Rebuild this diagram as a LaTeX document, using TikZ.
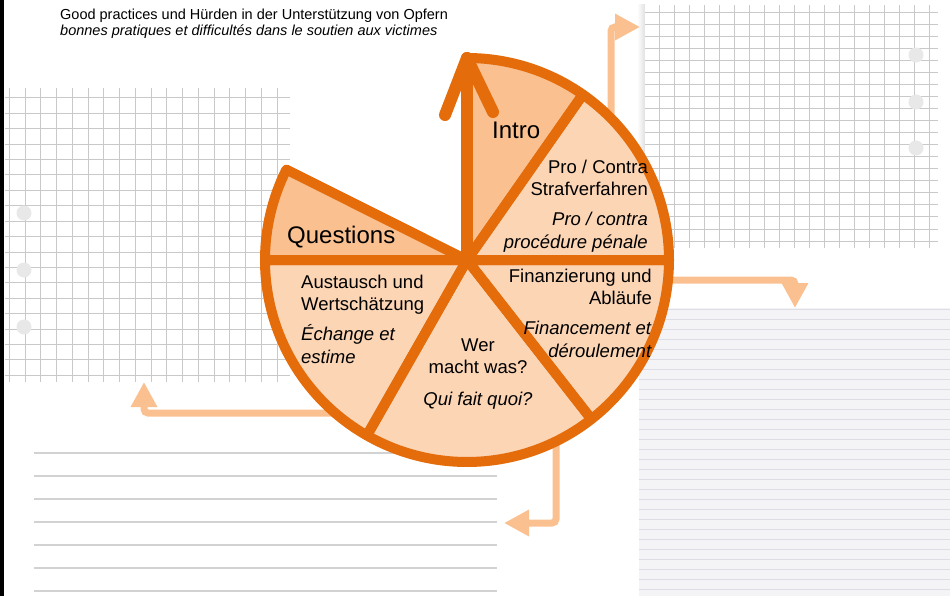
\documentclass[tikz,border=0pt]{standalone}
\usepackage{fontspec}
\setmainfont{Liberation Sans}
\usetikzlibrary{arrows.meta}
\definecolor{pieLine}{HTML}{E46C0A}
\definecolor{pieDark}{HTML}{FAC090}
\definecolor{pieLight}{HTML}{FCD5B5}
\definecolor{linkCol}{HTML}{FAC08F}
\definecolor{gridCol}{HTML}{C9C9C9}
\definecolor{ruleCol}{HTML}{D2D2D2}
\definecolor{sheetCol}{HTML}{F4F4F7}
\definecolor{sheetRule}{HTML}{DDDDE5}
\tikzset{
  sector/.style={draw=pieLine, line width=10pt, line join=round},
  link/.style={draw=linkCol, line width=7pt, rounded corners=4pt, -{Triangle[length=25pt,width=25pt]}},
  pietext/.style={font=\fontsize{18.5}{22.5}\selectfont, inner sep=0pt},
  pietitle/.style={font=\fontsize{24}{28}\selectfont, inner sep=0pt},
  hole/.style={circle, fill=black!9, minimum size=15pt, inner sep=0pt},
}
\begin{document}
\begin{tikzpicture}[x=1pt, y=-1pt]
\useasboundingbox (0,0) rectangle (950,596);
\fill[black] (0,0) rectangle (4,596);
% left grid sheet
\foreach \gx in {0,...,17}
  \draw[gridCol, line width=1pt] ({9.3+15.75*\gx},88) -- ({9.3+15.75*\gx},382);
\foreach \gy in {0,...,18}
  \draw[gridCol, line width=1pt] (5,{98+15.4*\gy}) -- (290,{98+15.4*\gy});
\foreach \hy in {213,270,327}
  \node[hole] (holeL\hy) at (24,\hy) {};
% right grid sheet
\shade[left color=white, right color=black!12] (637,5) rectangle (645,248);
\fill[white] (645,5) rectangle (938,248);
\foreach \gx in {0,...,18}
  \draw[gridCol, line width=1pt] ({659+15*\gx},5) -- ({659+15*\gx},248);
\foreach \gy in {0,...,19}
  \draw[gridCol, line width=1pt] (645,{13+12*\gy}) -- (938,{13+12*\gy});
\foreach \hy in {55,102,148}
  \node[hole] (holeR\hy) at (916,\hy) {};
% lined sheets
\fill[sheetCol] (639,308) rectangle (950,596);
\foreach \ly in {0,...,28}
  \draw[sheetRule, line width=1pt] (639,{309+10*\ly}) -- (950,{309+10*\ly});
\foreach \ly in {0,...,6}
  \draw[ruleCol, line width=1.5pt] (34,{453+23*\ly}) -- (497,{453+23*\ly});
% title
\node[anchor=base west, inner sep=0pt, font=\fontsize{14.5}{17}\selectfont] (title) at (60,20)
  {Good practices und Hürden in der Unterstützung von Opfern};
\node[anchor=base west, inner sep=0pt, font=\fontsize{14.5}{17}\selectfont\itshape] (subtitle) at (60,35.5)
  {bonnes pratiques et difficultés dans le soutien aux victimes};
% links
\coordinate (pc) at (467,260);
\coordinate (proIn) at (611,160);  \coordinate (proTip) at (640,27);
\coordinate (finIn) at (640,280);  \coordinate (finTip) at (795,308);
\coordinate (werIn) at (556,430);  \coordinate (werTip) at (504,523);
\coordinate (ausIn) at (360,413);  \coordinate (ausTip) at (144,382);
\draw[link] (proIn) |- (proTip);
\draw[link] (finIn) -| (finTip);
\draw[link] (werIn) |- (werTip);
\draw[link] (ausIn) -| (ausTip);
% pie (y axis points down, so angles are mirrored)
\def\pr{202}
\foreach \sa/\sb/\sc in {-55/-90/pieDark, 0/-55/pieLight, 52/0/pieLight, 119.7/52/pieLight, 180/119.7/pieLight, 206.6/180/pieDark}
  \fill[\sc] (pc) -- ++(\sa:\pr) arc[start angle=\sa, end angle=\sb, radius=\pr] -- cycle;
\foreach \sa/\sb in {-55/-90, 0/-55, 52/0, 119.7/52, 180/119.7, 206.6/180}
  \draw[sector] (pc) -- ++(\sa:\pr) arc[start angle=\sa, end angle=\sb, radius=\pr] -- cycle;
\coordinate (tipTop) at (467,58);
\draw[pieLine, line width=12pt, line cap=round, line join=round] (pc) -- (tipTop);
\draw[pieLine, line width=12pt, line cap=round, line join=round]
  ([shift={(-22,57)}]tipTop) -- (tipTop) -- ([shift={(26,54)}]tipTop);
% labels (base = last line)
\node[pietitle, anchor=base west] (intro) at (492,139) {Intro};
\node[pietitle, anchor=base west] (questions) at (287,243) {Questions};
\node[pietext, align=right, anchor=base east] (proContra) at (648,248)
  {Pro / Contra\\Strafverfahren\\[7.5pt]\textit{Pro / contra}\\\textit{procédure pénale}};
\node[pietext, align=right, anchor=base east] (finanz) at (652,357)
  {Finanzierung und\\Abläufe\\[7.5pt]\textit{Financement et}\\\textit{déroulement}};
\node[pietext, align=center, anchor=base] (werMacht) at (478,405)
  {Wer\\macht was?\\[9pt]\textit{Qui fait quoi?}};
\node[pietext, align=left, anchor=base west] (austausch) at (301,363)
  {Austausch und\\Wertschätzung\\[7.5pt]\textit{Échange et}\\\textit{estime}};
\end{tikzpicture}
\end{document}
